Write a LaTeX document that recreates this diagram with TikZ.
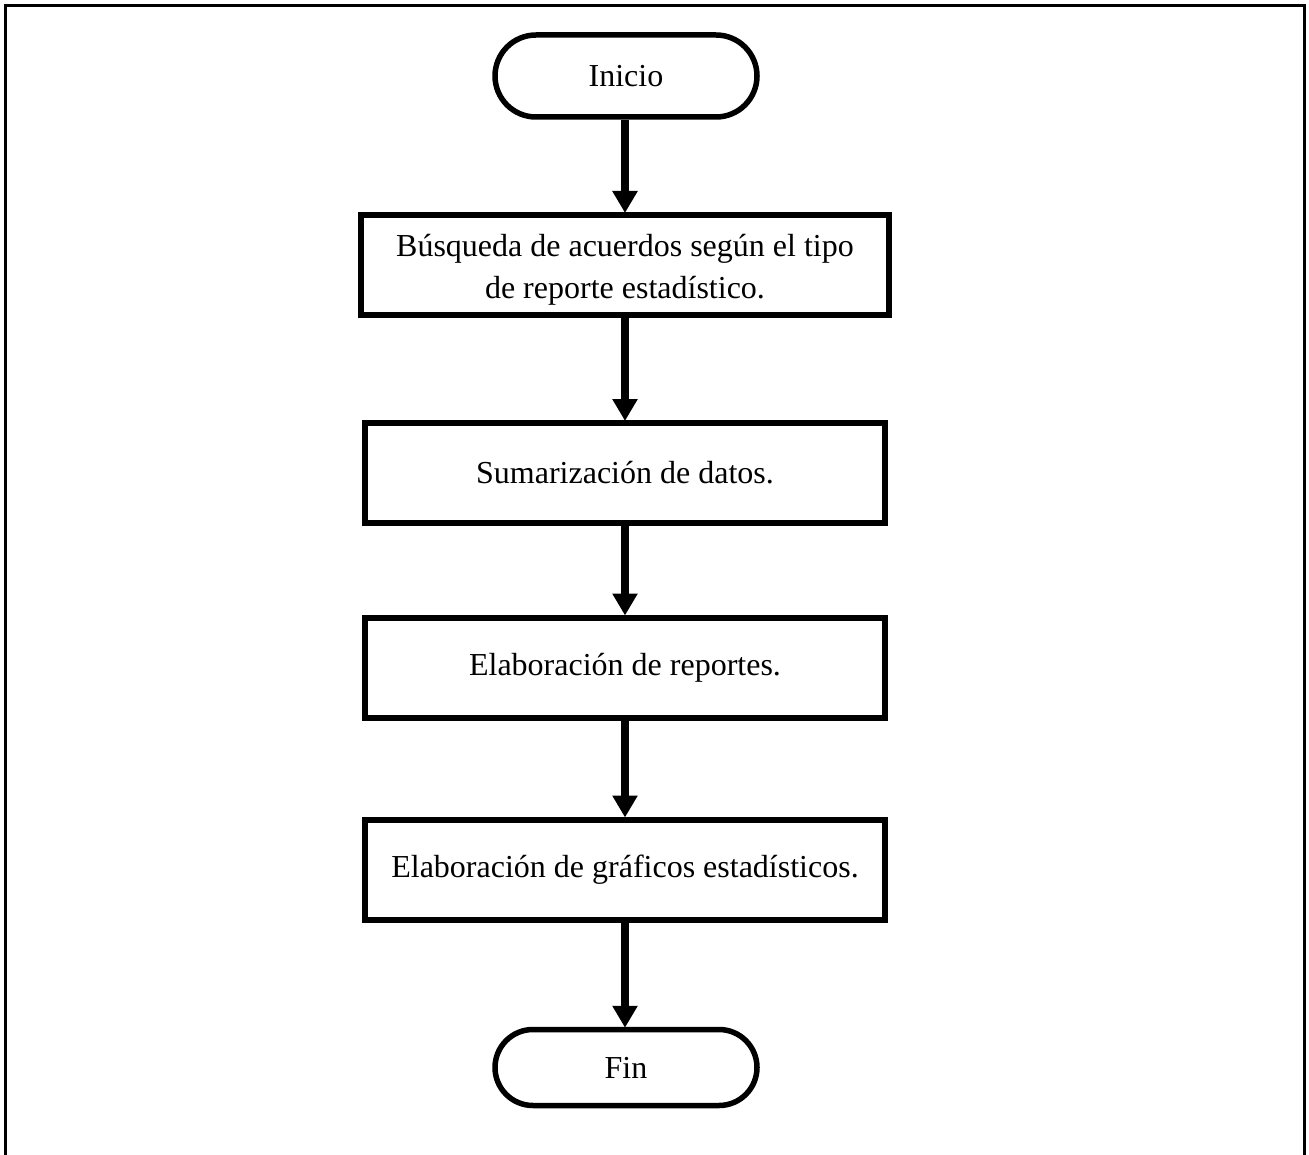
\documentclass[tikz,border=0pt]{standalone}
\usepackage{fontspec}
\setmainfont{Liberation Serif}
\usetikzlibrary{shapes.misc,arrows.meta}

\begin{document}
\begin{tikzpicture}[x=1pt,y=-1pt,
  proc/.style={draw, line width=6pt, rectangle, minimum width=520pt,
    minimum height=100pt, align=center, inner sep=0pt,
    font=\fontsize{32}{42}\selectfont},
  term/.style={draw, line width=5.5pt, rounded rectangle, minimum width=262pt,
    minimum height=82pt, inner sep=0pt, font=\fontsize{32}{36}\selectfont},
  flow/.style={line width=8pt, -{Triangle[width=24pt,length=22pt]}, shorten >=-1pt}
]
\useasboundingbox (0,0) rectangle (1309,1155);

% outer frame (open at the bottom edge)
\draw[line width=3pt] (5,1160) -- (5,6) -- (1304,6) -- (1304,1160);

% flowchart nodes
\node[term] (inicio) at (626,76) {Inicio};
\node[proc, minimum width=528pt] (busq) at (625,265)
  {\raisebox{-5pt}[\height][\depth]{\parbox{500pt}{\centering Búsqueda de acuerdos según el tipo\\de reporte estadístico.}}};
\node[proc] (sum) at (625,473) {Sumarización de datos.};
\node[proc] (rep) at (625,667.5) {Elaboración de reportes.};
\node[proc] (graf) at (625,869.5) {Elaboración de gráficos estadísticos.};
\node[term, minimum height=76pt] (fin) at (626,1067.5) {Fin};

% connectors
\draw[flow] (inicio.south -| busq.north) -- (busq.north);
\draw[flow] (busq) -- (sum);
\draw[flow] (sum) -- (rep);
\draw[flow] (rep) -- (graf);
\draw[flow] (graf.south) -- (graf.south |- fin.north);
\end{tikzpicture}
\end{document}
